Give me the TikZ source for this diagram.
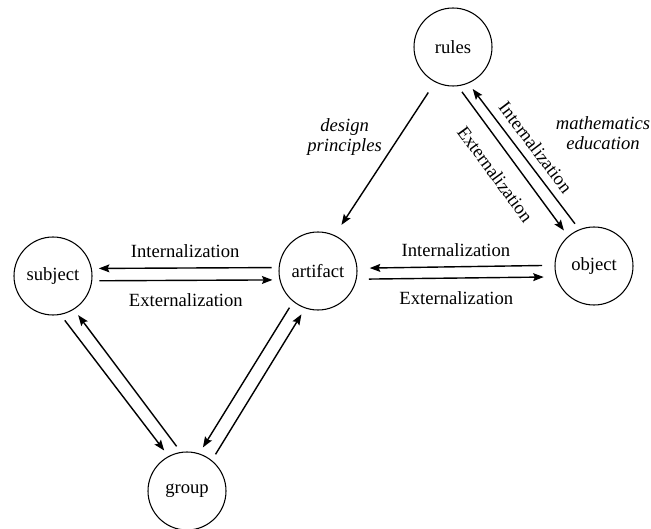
\documentclass[tikz,border=0pt]{standalone}
\usepackage{fontspec}
\setmainfont{Liberation Serif}
\usetikzlibrary{arrows.meta}
\begin{document}
\begin{tikzpicture}[font=\fontsize{10.6}{11.6}\selectfont,
  actor/.style={draw,circle,line width=0.6pt,minimum size=1.56cm,inner sep=0pt},
  arr/.style={-{Stealth[length=6pt,width=4.5pt,inset=1pt]},line width=0.8pt,shorten >=4pt,shorten <=4pt},
  far/.style={shorten >=7pt,shorten <=7pt},
  note/.style={font=\fontsize{10.6}{11.6}\selectfont\itshape,align=center}]
\useasboundingbox (0,0) rectangle (13.02,10.56);
\node[actor] (rules) at (9.06,9.62) {rules};
\node[actor] (object) at (11.88,5.24) {object};
\node[actor] (subject) at (1.06,5.04) {subject};
\node[actor] (artifact) at (6.36,5.14) {artifact};
\node[actor] (group) at (3.74,0.74) {group};
\draw[arr] (artifact.175) -- node[above=2pt] {Internalization} (subject.11);
\draw[arr] (subject.-7) -- node[below=4pt] {Externalization} (artifact.-167);
\draw[arr,far] (object.179) -- node[above=2pt] {Internalization} (artifact.4);
\draw[arr,far] (artifact.-12) -- node[below=4pt] {Externalization} (object.196);
\draw[arr,far] (rules.243) -- node[note,pos=0.36,left=6pt] {design\\principles} (artifact.65);
\draw[arr] (rules.-83) -- node[sloped,below=5pt] {Externalization} (object.131);
\draw[arr] (object.112) -- node[sloped,above=1pt] {Internalization} (rules.-67);
\draw[arr] (artifact.-129) -- (group.72);
\draw[arr] (group.51) -- (artifact.-109);
\draw[arr] (subject.-79) -- (group.118);
\draw[arr] (group.99) -- (subject.-58);
\node[note] (field) at (12.06,7.9) {mathematics\\education};
\end{tikzpicture}
\end{document}
